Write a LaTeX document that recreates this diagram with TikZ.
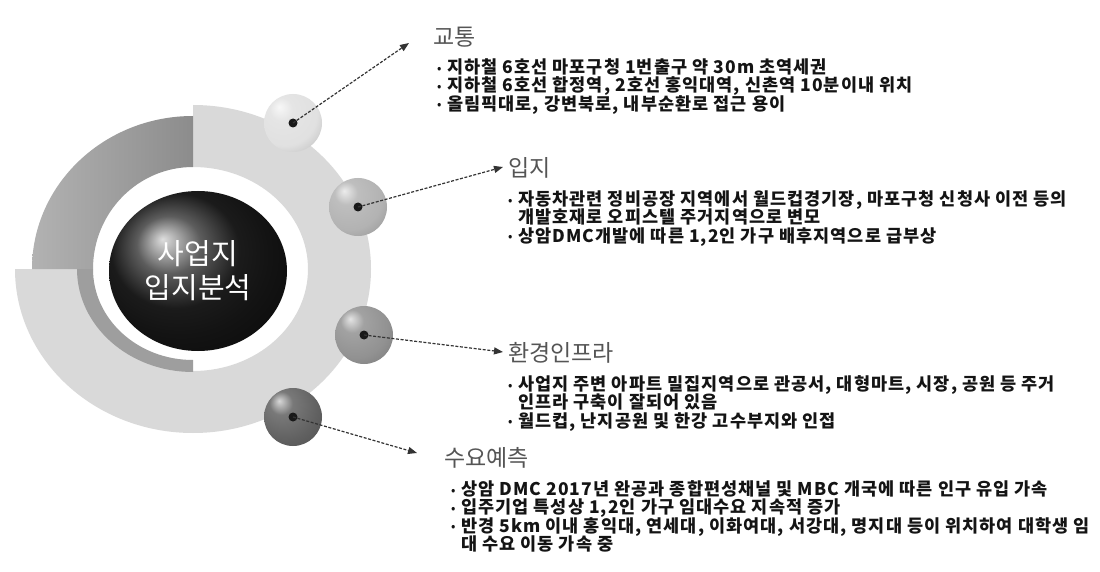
\documentclass[tikz,border=0pt]{standalone}
\usepackage{fontspec}
\setmainfont{Noto Sans CJK KR}
\newfontfamily\itemfont[LetterSpace=6]{Noto Sans CJK KR}
\usetikzlibrary{arrows.meta,shapes.geometric}
\definecolor{ringlight}{HTML}{D9D9D9}
\definecolor{ringdark}{HTML}{8C8C8C}
\definecolor{ringmid}{HTML}{B2B2B2}
\definecolor{ringthin}{HTML}{9E9E9E}
\definecolor{headgray}{HTML}{555555}
\newcommand\bul{\makebox[10pt][l]{\raisebox{1.5pt}{\fontsize{11}{11}\selectfont •}}}
\newcommand\cont{\hspace*{10pt}}
\newcommand\tightlines{\setlength{\lineskiplimit}{-20pt}}
\makeatletter
\pgfdeclareradialshading[tikz@ball]{softball}{\pgfqpoint{-12bp}{14bp}}{%
  color(0bp)=(tikz@ball!25!white);
  color(10bp)=(tikz@ball!85!white);
  color(28bp)=(tikz@ball);
  color(45bp)=(tikz@ball!80!black);
  color(56bp)=(tikz@ball!55!black);
  color(70bp)=(tikz@ball!55!black)}
\makeatother

\begin{document}
\begin{tikzpicture}[x=1pt, y=1pt,
  ball/.style = {circle, minimum size=58pt, inner sep=0},
  dot/.style = {circle, fill=black!90, minimum size=9pt, inner sep=0},
  link/.style = {draw=black!80, line width=1.2pt, dash pattern=on 3pt off 1.6pt, -{Triangle[length=9pt,width=7pt]}},
  head/.style = {anchor=west, inner sep=0, text=headgray, font=\fontsize{23}{25}\selectfont},
  items/.style = {anchor=north west, inner sep=0, align=left, text=black!92, font=\itemfont\fontsize{17.5}{18.3}\selectfont\bfseries\tightlines}]
	\fill[white] (0,0) rectangle (1100,-572);
	\useasboundingbox (0,0) rectangle (1100,-572);
	% ring
	\fill[ringlight] (193,-105) arc[start angle=90, end angle=-180, x radius=178, y radius=164]
		-- (78,-269) arc[start angle=180, end angle=450, x radius=115, y radius=102] -- cycle;
	\shade[left color=ringmid, right color=ringdark] (193,-116) arc[start angle=90, end angle=180, x radius=161, y radius=153]
		-- (93,-269) arc[start angle=180, end angle=90, x radius=100, y radius=102] -- cycle;
	\fill[ringthin] (77,-269) arc[start angle=180, end angle=270, x radius=116, y radius=103]
		-- (193,-360) arc[start angle=270, end angle=180, x radius=100, y radius=91] -- cycle;
	\node[ellipse, minimum width=178pt, minimum height=160pt, inner sep=0, shading=ball, ball color=black!85,
		text=white, align=center, font=\fontsize{29}{34}\selectfont] (core) at (198,-271) {사업지\\입지분석};
	\node[ball, ball color=black!12, shading=softball] (b1) at (293,-123) {};
	\node[ball, ball color=black!30, shading=softball] (b2) at (358,-207) {};
	\node[ball, ball color=black!43, shading=softball] (b3) at (364,-335) {};
	\node[ball, ball color=black!62, shading=softball] (b4) at (293,-417) {};
	\node[dot] (d1) at (b1) {};
	\node[dot] (d2) at (b2) {};
	\node[dot] (d3) at (b3) {};
	\node[dot] (d4) at (b4) {};
	\coordinate (t1) at (409,-43);
	\coordinate (t2) at (503,-167);
	\coordinate (t3) at (503,-352);
	\coordinate (t4) at (417,-453);
	\draw[link] (d1.center) -- (t1);
	\draw[link] (d2.center) -- (t2);
	\draw[link] (d3.center) -- (t3);
	\draw[link] (d4.center) -- (t4);
	% texts
	\node[head] (h1) at (433,-37) {교통};
	\node[head] (h2) at (508,-168) {입지};
	\node[head] (h3) at (508,-353) {환경인프라};
	\node[head] (h4) at (444,-458) {수요예측};
	\node[items] (l1) at (437,-58.5) {\bul 지하철 6호선 마포구청 1번출구 약 30m 초역세권\\
		\bul 지하철 6호선 합정역, 2호선 홍익대역, 신촌역 10분이내 위치\\
		\bul 올림픽대로, 강변북로, 내부순환로 접근 용이};
	\node[items] (l2) at (508,-190.5) {\bul 자동차관련 정비공장 지역에서 월드컵경기장, 마포구청 신청사 이전 등의\\
		\cont 개발호재로 오피스텔 주거지역으로 변모\\
		\bul 상암DMC개발에 따른 1,2인 가구 배후지역으로 급부상};
	\node[items] (l3) at (508,-375.5) {\bul 사업지 주변 아파트 밀집지역으로 관공서, 대형마트, 시장, 공원 등 주거\\
		\cont 인프라 구축이 잘되어 있음\\
		\bul 월드컵, 난지공원 및 한강 고수부지와 인접};
	\node[items] (l4) at (451,-480.5) {\bul 상암 DMC 2017년 완공과 종합편성채널 및 MBC 개국에 따른 인구 유입 가속\\
		\bul 입주기업 특성상 1,2인 가구 임대수요 지속적 증가\\
		\bul 반경 5km 이내 홍익대, 연세대, 이화여대, 서강대, 명지대 등이 위치하여 대학생 임\\
		\cont 대 수요 이동 가속 중};
\end{tikzpicture}
\end{document}
